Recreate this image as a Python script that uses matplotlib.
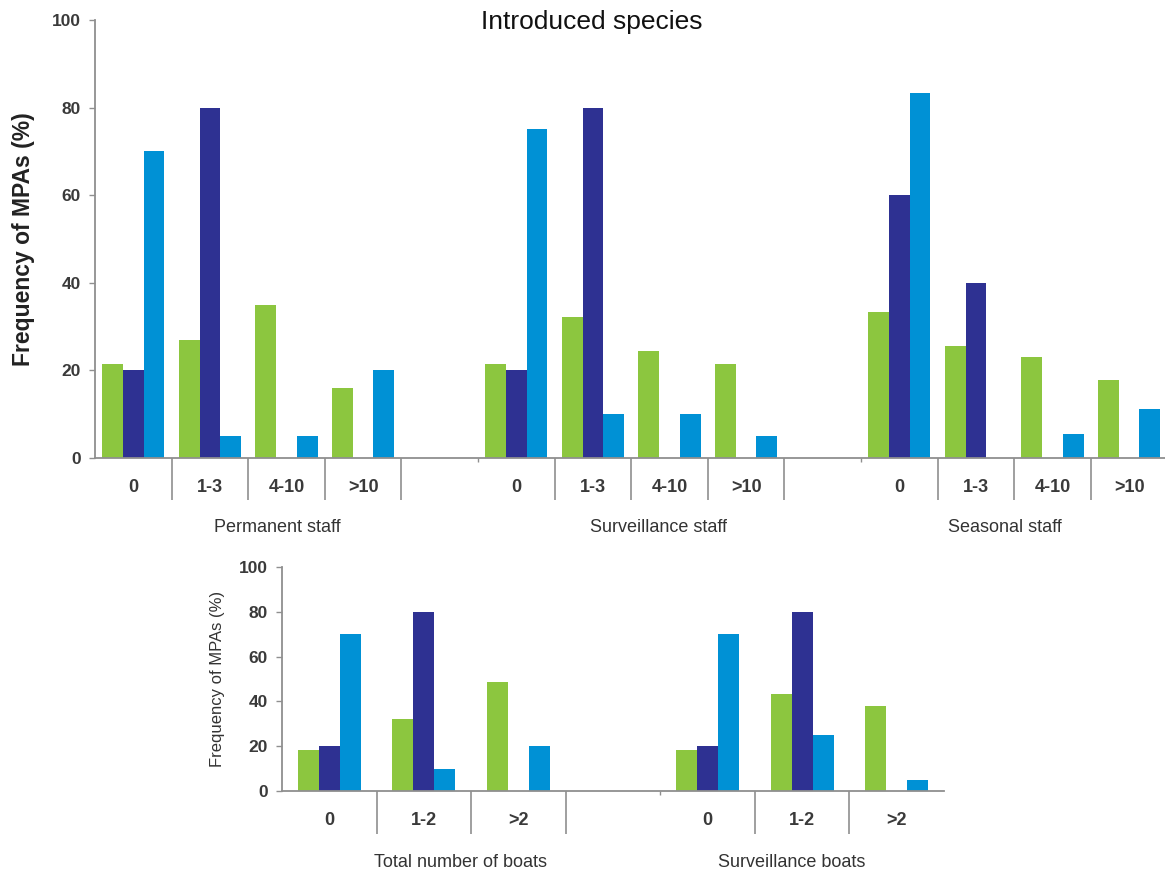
import matplotlib
matplotlib.use("Agg")
import matplotlib.pyplot as plt
import numpy as np

plt.rcParams['font.family'] = ['Liberation Sans', 'DejaVu Sans']

# ---------------- data ----------------
title = "Introduced species"
ylabel = "Frequency of MPAs (%)"

staff_categories = ['0', '1-3', '4-10', '>10']
staff_groups = ['Permanent staff', 'Surveillance staff', 'Seasonal staff']

permanent_s1 = [21.5, 27.0, 35.0, 16.0]
permanent_s2 = [20.0, 80.0, 0.0, 0.0]
permanent_s3 = [70.0, 5.0, 5.0, 20.0]

surveillance_s1 = [21.5, 32.3, 24.4, 21.4]
surveillance_s2 = [20.0, 80.0, 0.0, 0.0]
surveillance_s3 = [75.0, 10.0, 10.0, 5.0]

seasonal_s1 = [33.3, 25.6, 23.1, 17.9]
seasonal_s2 = [60.0, 40.0, 0.0, 0.0]
seasonal_s3 = [83.3, 0.0, 5.5, 11.1]

boat_categories = ['0', '1-2', '>2']
boat_groups = ['Total number of boats', 'Surveillance boats']

total_boats_s1 = [18.5, 32.2, 48.5]
total_boats_s2 = [20.0, 80.0, 0.0]
total_boats_s3 = [70.0, 10.0, 20.0]

surv_boats_s1 = [18.5, 43.3, 37.8]
surv_boats_s2 = [20.0, 80.0, 0.0]
surv_boats_s3 = [70.0, 25.0, 5.0]

yticks = [0, 20, 40, 60, 80, 100]

# ---------------- style ----------------
C1, C2, C3 = '#8cc63f', '#2e3192', '#0091d5'
GREY = '#8f8f8f'
TXT = '#3a3a3a'

W, H = 1165, 872
fig = plt.figure(figsize=(W / 100, H / 100), dpi=100)


def px_axes(left, right, top, bottom):
    return fig.add_axes([left / W, 1 - bottom / H, (right - left) / W, (bottom - top) / H])


def draw_panel(ax, groups_data, categories, group_starts, nslots, bar_w,
               long_bounds, short_bounds, sep_len, ylab_kw):
    ax.set_xlim(0, nslots)
    ax.set_ylim(0, 100)
    centers = []
    labels = []
    for start, (s1, s2, s3) in zip(group_starts, groups_data):
        x = start + np.arange(len(categories)) + 0.5
        ax.bar(x - bar_w, s1, bar_w, color=C1, linewidth=0)
        ax.bar(x, s2, bar_w, color=C2, linewidth=0)
        ax.bar(x + bar_w, s3, bar_w, color=C3, linewidth=0)
        centers.extend(x)
        labels.extend(categories)
    for sp in ['top', 'right']:
        ax.spines[sp].set_visible(False)
    for sp in ['left', 'bottom']:
        ax.spines[sp].set_color(GREY)
        ax.spines[sp].set_linewidth(1.3)
    ax.set_yticks(yticks)
    ax.set_yticklabels([str(v) for v in yticks], fontsize=12.5, fontweight='bold', color=TXT)
    ax.tick_params(axis='y', length=4, width=1, color=GREY, pad=6)
    ax.set_xticks(centers)
    ax.set_xticklabels(labels, fontsize=13, fontweight='bold', color=TXT)
    ax.tick_params(axis='x', which='major', length=0, pad=15)
    ax.set_xticks(long_bounds, minor=True)
    ax.tick_params(axis='x', which='minor', length=sep_len, width=1.2, color=GREY, direction='out')
    sec = ax.secondary_xaxis('bottom')
    sec.set_xticks(short_bounds)
    sec.set_xticklabels([''] * len(short_bounds))
    sec.tick_params(length=3, width=1, color=GREY)
    sec.spines['bottom'].set_visible(False)
    ax.set_ylabel(ylabel, **ylab_kw)


ax1 = px_axes(95, 1165, 20, 458)
draw_panel(ax1,
           [(permanent_s1, permanent_s2, permanent_s3),
            (surveillance_s1, surveillance_s2, surveillance_s3),
            (seasonal_s1, seasonal_s2, seasonal_s3)],
           staff_categories, [0, 5, 10], 1070 / 76.6, 0.27,
           [1, 2, 3, 4, 6, 7, 8, 9, 11, 12, 13], [5, 10], 30,
           dict(fontsize=16.5, fontweight='bold', color='#222222', labelpad=12))

ax2 = px_axes(282, 944, 567, 791)
draw_panel(ax2,
           [(total_boats_s1, total_boats_s2, total_boats_s3),
            (surv_boats_s1, surv_boats_s2, surv_boats_s3)],
           boat_categories, [0, 4], 7, 0.223,
           [1, 2, 3, 5, 6], [4], 31,
           dict(fontsize=12, color='#333333', labelpad=10))

fig.text(592 / W, 1 - 22 / H, title, fontsize=19, color='#111111', ha='center', va='center')

for name, xc in zip(staff_groups, [277, 659, 1005]):
    fig.text(xc / W, 1 - 527 / H, name, fontsize=13, color='#333333', ha='center', va='center')
for name, xc in zip(boat_groups, [461, 792]):
    fig.text(xc / W, 1 - 862 / H, name, fontsize=13, color='#333333', ha='center', va='center')

fig.savefig('out.png', dpi=100)
